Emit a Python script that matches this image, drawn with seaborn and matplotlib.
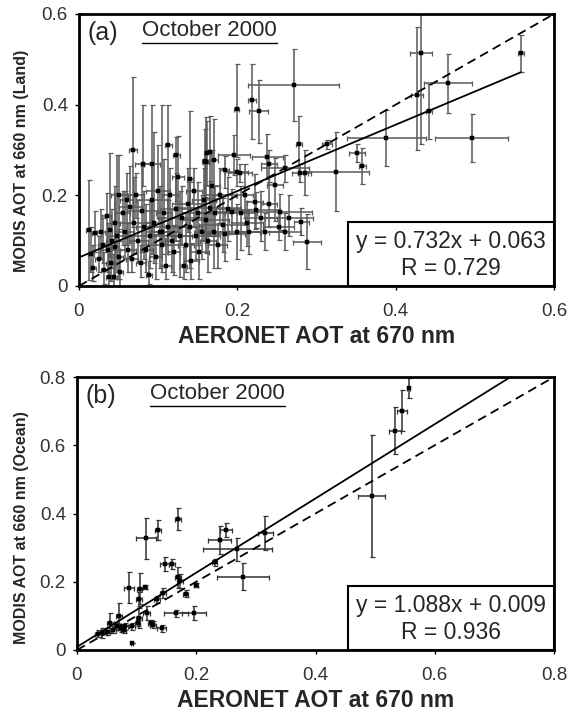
import numpy as np
import pandas as pd
import seaborn as sns
import matplotlib
matplotlib.use("Agg")
import matplotlib.pyplot as plt
from matplotlib.patches import Rectangle

# ---------------- data: panel (a) Land ----------------
land_x = [0.558, 0.432, 0.427, 0.466, 0.442, 0.496, 0.388, 0.351, 0.358, 0.325,
          0.313, 0.278, 0.271, 0.288, 0.199, 0.219, 0.227, 0.238, 0.196, 0.199,
          0.184, 0.170, 0.159, 0.162, 0.281, 0.254, 0.252, 0.222, 0.224, 0.212,
          0.199, 0.182, 0.193, 0.165, 0.170, 0.248, 0.279, 0.203, 0.012, 0.068,
          0.092, 0.113, 0.123, 0.140, 0.160, 0.165, 0.081, 0.039, 0.020, 0.105,
          0.025, 0.030, 0.032, 0.036, 0.040, 0.042, 0.044, 0.045, 0.046, 0.048,
          0.050, 0.052, 0.055, 0.058, 0.060, 0.062, 0.065, 0.067, 0.070, 0.072,
          0.075, 0.078, 0.080, 0.082, 0.085, 0.088, 0.090, 0.092, 0.095, 0.097,
          0.100, 0.102, 0.105, 0.107, 0.110, 0.112, 0.115, 0.118, 0.120, 0.122,
          0.125, 0.128, 0.130, 0.132, 0.135, 0.138, 0.140, 0.142, 0.145, 0.148,
          0.150, 0.152, 0.155, 0.158, 0.160, 0.163, 0.168, 0.172, 0.175, 0.178,
          0.185, 0.188, 0.205, 0.210, 0.215, 0.230, 0.235, 0.240, 0.260, 0.265,
          0.285, 0.260, 0.240, 0.015, 0.018, 0.028, 0.035, 0.038, 0.050]
land_y = [0.513, 0.513, 0.421, 0.447, 0.385, 0.326, 0.326, 0.293, 0.265, 0.252,
          0.313, 0.313, 0.443, 0.098, 0.390, 0.410, 0.385, 0.285, 0.289, 0.251,
          0.256, 0.278, 0.276, 0.293, 0.142, 0.164, 0.131, 0.186, 0.168, 0.138,
          0.120, 0.135, 0.164, 0.171, 0.120, 0.223, 0.249, 0.249, 0.123, 0.300,
          0.270, 0.310, 0.288, 0.237, 0.273, 0.295, 0.270, 0.123, 0.116, 0.120,
          0.060, 0.090, 0.035, 0.080, 0.050, 0.100, 0.020, 0.085, 0.140, 0.110,
          0.065, 0.030, 0.160, 0.120, 0.190, 0.080, 0.175, 0.060, 0.140, 0.200,
          0.100, 0.050, 0.165, 0.130, 0.080, 0.025, 0.110, 0.190, 0.140, 0.065,
          0.210, 0.120, 0.090, 0.160, 0.045, 0.130, 0.200, 0.100, 0.075, 0.170,
          0.240, 0.110, 0.150, 0.045, 0.090, 0.180, 0.130, 0.055, 0.210, 0.110,
          0.160, 0.075, 0.120, 0.190, 0.145, 0.100, 0.220, 0.160, 0.090, 0.200,
          0.115, 0.170, 0.160, 0.200, 0.120, 0.150, 0.120, 0.180, 0.120, 0.150,
          0.250, 0.260, 0.270, 0.070, 0.040, 0.120, 0.155, 0.020, 0.200]
land_xerr = [0.004, 0.014, 0.008, 0.030, 0.004, 0.046, 0.050, 0.010, 0.004, 0.041,
             0.006, 0.004, 0.057, 0.018, 0.003, 0.005, 0.012, 0.020, 0.020, 0.015,
             0.006, 0.005, 0.004, 0.004, 0.010, 0.040, 0.020, 0.010, 0.030, 0.020,
             0.030, 0.030, 0.020, 0.040, 0.020, 0.010, 0.010, 0.015, 0.003, 0.005,
             0.010, 0.005, 0.004, 0.004, 0.004, 0.004, 0.010, 0.003, 0.003, 0.020,
             0.005, 0.006, 0.004, 0.010, 0.006, 0.008, 0.004, 0.005, 0.006, 0.010,
             0.006, 0.003, 0.010, 0.012, 0.008, 0.010, 0.015, 0.008, 0.020, 0.010,
             0.012, 0.006, 0.020, 0.010, 0.008, 0.004, 0.030, 0.020, 0.010, 0.008,
             0.015, 0.012, 0.020, 0.010, 0.006, 0.025, 0.010, 0.010, 0.008, 0.020,
             0.008, 0.015, 0.030, 0.004, 0.010, 0.020, 0.015, 0.010, 0.010, 0.030,
             0.020, 0.012, 0.010, 0.015, 0.030, 0.010, 0.010, 0.020, 0.012, 0.020,
             0.025, 0.015, 0.020, 0.010, 0.015, 0.020, 0.030, 0.010, 0.020, 0.030,
             0.008, 0.030, 0.010, 0.004, 0.004, 0.005, 0.006, 0.004, 0.010]
land_ylo = [0.040, 0.200, 0.120, 0.065, 0.060, 0.053, 0.062, 0.020, 0.040, 0.087,
            0.010, 0.063, 0.080, 0.060, 0.105, 0.085, 0.070, 0.050, 0.045, 0.030,
            0.040, 0.090, 0.080, 0.070, 0.030, 0.040, 0.030, 0.060, 0.040, 0.050,
            0.060, 0.060, 0.050, 0.060, 0.080, 0.080, 0.020, 0.020, 0.110, 0.170,
            0.200, 0.220, 0.100, 0.180, 0.200, 0.100, 0.050, 0.060, 0.040, 0.050,
            0.030, 0.040, 0.030, 0.050, 0.040, 0.060, 0.020, 0.070, 0.060, 0.080,
            0.050, 0.030, 0.070, 0.060, 0.100, 0.050, 0.080, 0.030, 0.070, 0.050,
            0.050, 0.030, 0.090, 0.070, 0.050, 0.020, 0.070, 0.080, 0.090, 0.050,
            0.060, 0.080, 0.060, 0.070, 0.030, 0.060, 0.090, 0.070, 0.050, 0.070,
            0.120, 0.090, 0.060, 0.030, 0.060, 0.060, 0.090, 0.040, 0.080, 0.050,
            0.070, 0.060, 0.060, 0.090, 0.050, 0.070, 0.100, 0.050, 0.050, 0.060,
            0.060, 0.070, 0.080, 0.050, 0.050, 0.050, 0.040, 0.050, 0.040, 0.040,
            0.050, 0.030, 0.040, 0.040, 0.030, 0.060, 0.070, 0.020, 0.100]
land_yhi = [0.040, 0.090, 0.150, 0.065, 0.060, 0.053, 0.062, 0.020, 0.040, 0.087,
            0.010, 0.063, 0.080, 0.060, 0.100, 0.080, 0.070, 0.050, 0.045, 0.030,
            0.030, 0.090, 0.070, 0.070, 0.030, 0.040, 0.030, 0.060, 0.040, 0.050,
            0.060, 0.060, 0.050, 0.060, 0.080, 0.060, 0.020, 0.020, 0.110, 0.160,
            0.130, 0.090, 0.040, 0.150, 0.100, 0.080, 0.130, 0.170, 0.050, 0.280,
            0.050, 0.060, 0.040, 0.060, 0.050, 0.070, 0.050, 0.120, 0.080, 0.180,
            0.060, 0.050, 0.050, 0.090, 0.060, 0.060, 0.090, 0.050, 0.100, 0.050,
            0.090, 0.040, 0.100, 0.080, 0.100, 0.030, 0.080, 0.080, 0.200, 0.050,
            0.100, 0.100, 0.060, 0.120, 0.060, 0.060, 0.060, 0.070, 0.060, 0.080,
            0.090, 0.100, 0.070, 0.040, 0.070, 0.080, 0.100, 0.040, 0.050, 0.060,
            0.070, 0.050, 0.080, 0.070, 0.050, 0.060, 0.080, 0.060, 0.050, 0.060,
            0.050, 0.070, 0.060, 0.070, 0.050, 0.060, 0.040, 0.050, 0.040, 0.050,
            0.050, 0.030, 0.030, 0.060, 0.050, 0.050, 0.050, 0.050, 0.090]

# ---------------- data: panel (b) Ocean ----------------
ocean_x = [0.116, 0.136, 0.169, 0.147, 0.160, 0.169, 0.172, 0.182, 0.200, 0.087,
           0.105, 0.114, 0.104, 0.145, 0.134, 0.166, 0.196, 0.142, 0.124, 0.104,
           0.102, 0.092, 0.081, 0.070, 0.067, 0.056, 0.061, 0.042, 0.036, 0.050,
           0.073, 0.092, 0.078, 0.128, 0.117, 0.239, 0.250, 0.231, 0.269, 0.278,
           0.316, 0.494, 0.533, 0.545, 0.556]
ocean_y = [0.327, 0.351, 0.384, 0.252, 0.252, 0.213, 0.203, 0.165, 0.191, 0.183,
           0.180, 0.185, 0.150, 0.168, 0.149, 0.108, 0.108, 0.064, 0.079, 0.094,
           0.079, 0.069, 0.069, 0.099, 0.069, 0.079, 0.059, 0.050, 0.048, 0.054,
           0.064, 0.020, 0.059, 0.074, 0.109, 0.322, 0.351, 0.257, 0.295, 0.215,
           0.342, 0.451, 0.643, 0.701, 0.768]
ocean_xerr = [0.017, 0.005, 0.005, 0.007, 0.005, 0.005, 0.005, 0.005, 0.003, 0.008,
              0.004, 0.004, 0.005, 0.005, 0.005, 0.020, 0.020, 0.008, 0.005, 0.005,
              0.004, 0.005, 0.005, 0.005, 0.005, 0.006, 0.004, 0.008, 0.005, 0.005,
              0.005, 0.002, 0.004, 0.005, 0.006, 0.019, 0.010, 0.004, 0.058, 0.044,
              0.012, 0.023, 0.010, 0.008, 0.003]
ocean_yerr = [0.060, 0.030, 0.033, 0.020, 0.015, 0.030, 0.020, 0.010, 0.005, 0.045,
              0.045, 0.005, 0.020, 0.015, 0.010, 0.010, 0.020, 0.010, 0.010, 0.030,
              0.010, 0.010, 0.010, 0.040, 0.010, 0.030, 0.010, 0.015, 0.010, 0.010,
              0.010, 0.000, 0.010, 0.010, 0.020, 0.040, 0.020, 0.010, 0.033, 0.040,
              0.050, 0.178, 0.070, 0.060, 0.030]

# regression results printed on the chart
fit_land = (0.732, 0.063, 0.729)
fit_ocean = (1.088, 0.009, 0.936)
land_ticks = [0, 0.2, 0.4, 0.6]
ocean_ticks = [0, 0.2, 0.4, 0.6, 0.8]

sns.set_theme(style="ticks")
plt.rcParams['font.family'] = ['Liberation Sans', 'DejaVu Sans']

fig = plt.figure(figsize=(5.69, 7.16), dpi=100)
ax_a = fig.add_axes([79/569, 1-286/716, 475/569, 272/716])
ax_b = fig.add_axes([77/569, 1-650/716, 477/569, 273/716])


def fmt(v):
    return "0" if v == 0 else f"{v:g}"


def panel(ax, x, y, xerr, yerr, fit, ticks, label, ylabel, ecolor, box_left, box_top,
          text_x, ylab_size):
    lim = ticks[-1]
    ax.errorbar(x, y, xerr=xerr, yerr=yerr, fmt='none', ecolor=ecolor,
                elinewidth=1.1, capsize=1.8, capthick=0.9, zorder=2)
    df = pd.DataFrame({"x": x, "y": y})
    sns.scatterplot(data=df, x="x", y="y", ax=ax, marker="s", s=7, color="black",
                    edgecolor="black", linewidth=0.3, zorder=3)
    slope, icpt, r = fit
    # 1:1 line
    one = pd.DataFrame({"x": [0, lim], "y": [0, lim]})
    sns.lineplot(data=one, x="x", y="y", ax=ax, color="black", lw=1.3,
                 linestyle=(0, (5, 3)), zorder=4)
    # regression line
    if label == "(a)":
        xr = np.array([0.0, max(x)])
    else:
        xr = np.array([0.0, (lim - icpt) / slope])
    reg = pd.DataFrame({"x": xr, "y": slope * xr + icpt})
    sns.lineplot(data=reg, x="x", y="y", ax=ax, color="black", lw=1.3, zorder=4)

    ax.set_xlim(0, lim)
    ax.set_ylim(0, lim)
    ax.set_xticks(ticks)
    ax.set_yticks(ticks)
    ax.set_xticklabels([fmt(t) for t in ticks], fontsize=13.5, color="#333333")
    ax.set_yticklabels([fmt(t) for t in ticks], fontsize=13.5, color="#333333")
    ax.tick_params(axis="x", direction="out", length=3, width=1, color="black", pad=9)
    ax.tick_params(axis="y", direction="out", length=3, width=1, color="black", pad=5)
    for s in ax.spines.values():
        s.set_linewidth(2)
        s.set_color("black")
    ax.set_xlabel("AERONET AOT at 670 nm", fontsize=16.5, fontweight="bold", labelpad=4)
    ax.set_ylabel(ylabel, fontsize=ylab_size, fontweight="bold")

    ax.text(0.018, 0.93, label, transform=ax.transAxes, fontsize=18,
            va="center", ha="left")
    t = ax.text(text_x, 0.94, "October 2000", transform=ax.transAxes, fontsize=16,
                va="center", ha="left")
    fig.canvas.draw()
    bb = t.get_window_extent().transformed(ax.transAxes.inverted())
    ax.plot([bb.x0, bb.x1], [bb.y0 - 0.008, bb.y0 - 0.008], transform=ax.transAxes,
            color="black", lw=1)

    ax.add_patch(Rectangle((box_left, 0), 1 - box_left, box_top, transform=ax.transAxes,
                           facecolor="white", edgecolor="black", lw=1.5, zorder=6))
    cx = (box_left + 1) / 2
    ax.text(cx, box_top * 0.70, f"y = {slope:.3f}x + {icpt:.3f}", transform=ax.transAxes,
            fontsize=16.5, ha="center", va="center", zorder=7)
    ax.text(cx, box_top * 0.27, f"R = {r:.3f}", transform=ax.transAxes,
            fontsize=16.5, ha="center", va="center", zorder=7)


panel(ax_a, land_x, land_y, land_xerr, [land_ylo, land_yhi], fit_land, land_ticks,
      "(a)", "MODIS AOT at 660 nm (Land)", "#5a5a5a", 0.566, 0.235, 0.133, 11.5)
panel(ax_b, ocean_x, ocean_y, ocean_xerr, ocean_yerr, fit_ocean, ocean_ticks,
      "(b)", "MODIS AOT at 660 nm (Ocean)", "#333333", 0.568, 0.234, 0.153, 11.5)

ax_a.yaxis.set_label_coords(-0.105, 0.46)
ax_b.yaxis.set_label_coords(-0.101, 0.45)

fig.savefig("out.png", dpi=100)
